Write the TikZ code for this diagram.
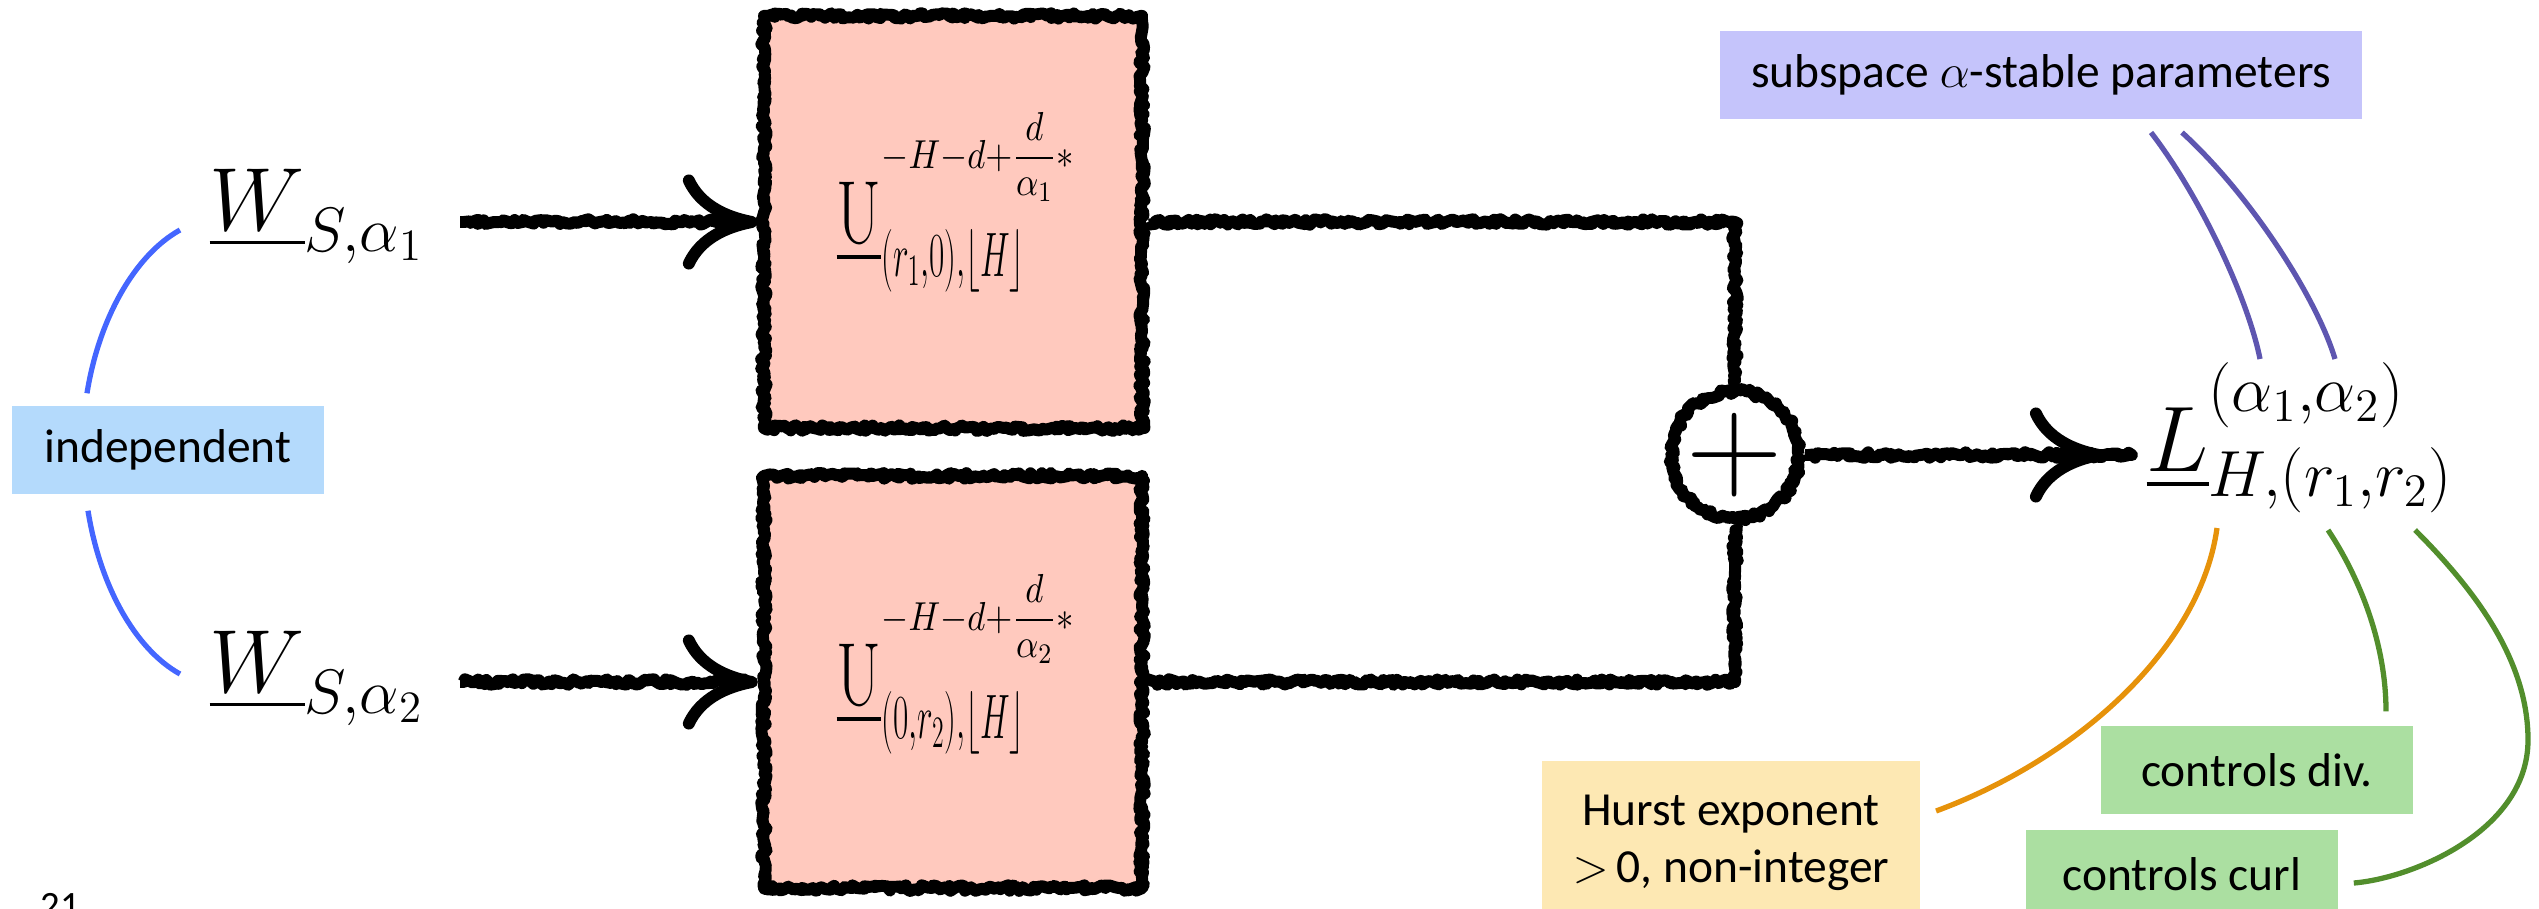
\RequirePackage{fix-cm}
\documentclass[tikz,border=0pt]{standalone}
\usepackage{amsmath, amssymb}
\usepackage{graphicx}
\usepackage{fontspec}
\newfontfamily\labelfont{Carlito}
\usetikzlibrary{arrows.meta, positioning, calc, decorations.pathmorphing}
\usepackage{xcolor}

\definecolor{boxpink}{RGB}{255,201,190}
\definecolor{indepblue}{RGB}{180,218,252}
\definecolor{lineblue}{RGB}{68,102,255}
\definecolor{paramlilac}{RGB}{197,196,251}
\definecolor{paramline}{RGB}{94,86,176}
\definecolor{hurstyellow}{RGB}{253,232,179}
\definecolor{hurstorange}{RGB}{230,146,10}
\definecolor{ctrlgreen}{RGB}{171,223,161}
\definecolor{ctrlline}{RGB}{82,142,44}

% filter symbol: narrow U with its exponent and index
\newcommand{\filtersym}[2]{%
  $\underline{\scalebox{0.72}[1]{$\mathrm{U}$}}%
  ^{\raisebox{10.8pt}{\scalebox{0.86}[1]{\fontsize{11.5}{13}\selectfont${-}H{-}d{+}\dfrac{d}{#1}{*}$}}}%
  _{\raisebox{-3pt}{\scalebox{0.53}[1]{$\scriptstyle #2$}}}$}

\tikzset{
  chalk/.style={line width=3.4pt, line join=round, decorate,
    decoration={random steps, segment length=0.8pt, amplitude=0.8pt}},
  chalkarrow/.style={chalk, -{Computer Modern Rightarrow[length=0.75cm, width=0.95cm]},
    decoration={random steps, segment length=0.8pt, amplitude=0.8pt, pre length=1pt, post length=4pt}},
  opbox/.style={rectangle, draw, fill=boxpink, chalk, minimum width=3.78cm,
    minimum height=4.12cm, inner sep=0pt},
  summer/.style={circle, draw, chalk, minimum size=1.12cm, inner sep=0pt,
    font=\fontsize{38}{44}\selectfont},
  mathsym/.style={inner sep=0pt, font=\fontsize{25.5}{30}\selectfont},
  tag/.style={rectangle, inner xsep=0.31cm, inner ysep=0pt, minimum width=3.12cm,
    minimum height=0.88cm, font=\labelfont\fontsize{13.5}{16.2}\selectfont},
  thinlink/.style={line width=1.5pt},
}

\begin{document}
\begin{tikzpicture}[x=0.01cm, y=-0.01cm]
    \useasboundingbox (0,0) rectangle (2539,909);
    \pgfmathsetseed{42}

    % Inputs
    \node[mathsym, anchor=base west] (W1) at (209,230) {$\underline{W}_{S,\alpha_1}$};
    \node[mathsym, anchor=base west] (W2) at (209,692) {$\underline{W}_{S,\alpha_2}$};
    \node[tag, fill=indepblue] (indep) at (168,450) {independent};
    \draw[thinlink, lineblue] ($(indep.north)+(-81,-12)$) .. controls +(12,-75) and +(-45,25) .. ($(W1.base west)+(-29,0)$);
    \draw[thinlink, lineblue] ($(indep.south)+(-80,16)$) .. controls +(12,75) and +(-45,-25) .. ($(W2.base west)+(-29,-18)$);

    % Filters
    \node[opbox] (op1) at (953,222) {};
    \node[opbox] (op2) at (953,682) {};
    \node[mathsym, anchor=base west] (U1) at (836,243) {\filtersym{\alpha_1}{(r_1,0),\lfloor H\rfloor}};
    \node[mathsym, anchor=base west] (U2) at (836,705) {\filtersym{\alpha_2}{(0,r_2),\lfloor H\rfloor}};
    \draw[chalkarrow] ($(op1.west -| W1.east)+(35,0)$) -- (op1.west);
    \draw[chalkarrow] ($(op2.west -| W2.east)+(35,0)$) -- (op2.west);

    % Sum
    \node[summer] (plus) at (1735,455) {$+$};
    \draw[chalk] (op1.east) -- (op1.east -| plus.north) -- (plus.north);
    \draw[chalk] (op2.east) -- (op2.east -| plus.south) -- (plus.south);

    % Output field
    \node[mathsym, anchor=base west, font=\fontsize{26.5}{31}\selectfont] (Lm) at (2146,471)
      {$\underline{L}^{\raisebox{6pt}{$\scriptstyle (\alpha_1,\alpha_2)$}}_{H,(r_1,r_2)}$};
    \draw[chalkarrow, shorten >=0.41cm] (plus.east) -- (plus.east -| Lm.west);

    % Annotations
    \node[tag, fill=paramlilac, anchor=north east] (stable) at (2363,30) {subspace $\alpha$-stable parameters};
    \node[tag, fill=hurstyellow, minimum width=3.71cm, minimum height=1.64cm, align=center] (hurst) at (1731,843)
      {Hurst exponent\\$>$\,0, non-integer};
    \node[tag, fill=ctrlgreen] (div) at (2257,770) {controls div.};
    \node[tag, fill=ctrlgreen] (curl) at (2182,874) {controls curl};
    \node[anchor=north west, inner sep=0pt, font=\labelfont\fontsize{11}{13}\selectfont] (pagenum) at (40,893) {21};

    \draw[thinlink, paramline] ($(stable.south east)+(-212,13)$) .. controls +(50,65) and +(-12,-60) .. ($(Lm.base west)+(114,-112)$);
    \draw[thinlink, paramline] ($(stable.south east)+(-181,13)$) .. controls +(70,64) and +(-18,-60) .. ($(Lm.base west)+(189,-112)$);
    \draw[thinlink, hurstorange] ($(Lm.base west)+(71,57)$) .. controls +(-17,122) and +(138,-51) .. ($(hurst.east)+(15,-32)$);
    \draw[thinlink, ctrlline] ($(Lm.base west)+(182,59)$) .. controls +(30,45) and +(0,-70) .. ($(div.north)+(129,-14)$);
    \draw[thinlink, ctrlline] ($(Lm.base west)+(269,59)$) .. controls +(60,60) and +(0,-80) .. ++(113,210)
      .. controls +(0,90) and +(60,-5) .. ($(curl.east)+(15,9)$);
\end{tikzpicture}
\end{document}
